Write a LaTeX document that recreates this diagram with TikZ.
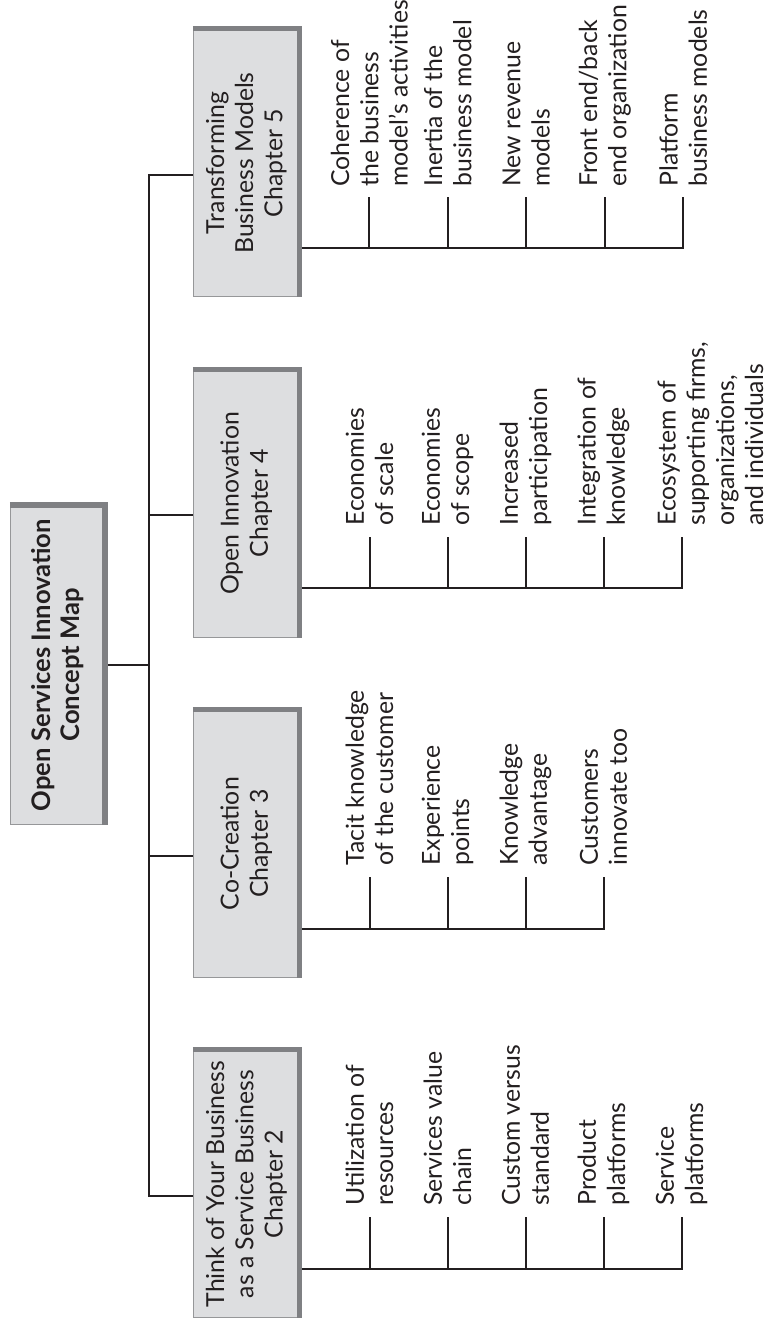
\documentclass[tikz,border=0pt]{standalone}
\usepackage{fontspec}
\setmainfont{Lato}
\usetikzlibrary{positioning}

\definecolor{inkgray}{RGB}{35,31,32}
\definecolor{boxgray}{RGB}{221,222,224}
\definecolor{edgegray}{RGB}{150,151,153}
\definecolor{shadegray}{RGB}{127,128,131}

\tikzset{
  mapbox/.style={rotate=90, draw=edgegray, line width=0.5pt, fill=boxgray,
    align=center, inner sep=0pt, text=inkgray},
  chapbox/.style={mapbox, minimum width=133.8pt, minimum height=52.9pt},
  topic/.style={rotate=90, anchor=west, align=left, inner sep=0pt, text=inkgray},
  link/.style={draw=inkgray, line width=1pt},
  boxshade/.style={draw=shadegray, line width=2.5pt}
}

\begin{document}
\begin{tikzpicture}[x=0.5pt, y=-0.5pt, font=\fontsize{12.4}{14.6}\selectfont]
  \useasboundingbox (0,0) rectangle (766,1327);

  % Concept map title
  \node[mapbox, minimum width=159.6pt, minimum height=47.2pt,
    font=\fontsize{12.8}{14.6}\selectfont\bfseries]
    (root) at (57.5,665) {Open Services Innovation\\Concept Map};

  % Chapters
  \node[chapbox] (ch5) at (246.3,163) {Transforming\\Business Models\\Chapter 5};
  \node[chapbox] (ch4) at (246.3,503.3) {Open Innovation\\Chapter 4};
  \node[chapbox] (ch3) at (246.3,843.7) {Co-Creation\\Chapter 3};
  \node[chapbox] (ch2) at (246.3,1184) {Think of Your Business\\as a Service Business\\Chapter 2};

  % Trunk
  \coordinate (trunk) at (148.7,665);
  \draw[link] (root.south) -- (trunk);
  \foreach \c in {2,...,5}
    \coordinate (in\c) at ([yshift=-6pt]ch\c.north);
  \draw[link] (in5) -| (trunk) |- (in2);
  \draw[link] (in4) -- (in4 -| trunk);
  \draw[link] (in3) -- (in3 -| trunk);

  % Chapter 5 topics
  \coordinate (bar5) at ([yshift=-42.5pt]ch5.south);
  \foreach \topic [count=\i] in {{Coherence of\\the business\\model's activities},
      {Inertia of the\\business model}, {New revenue\\models},
      {Front end/back\\end organization}, {Platform\\business models}} {
    \coordinate (k5-\i) at (290.8+78.5*\i,197);
    \node[topic] (t5-\i) at ([yshift=5pt]k5-\i) {\topic};
    \draw[link] (k5-\i) -- (k5-\i |- bar5);
  }
  \draw[link] (bar5) -| (k5-5);

  % Chapter 4 topics
  \coordinate (bar4) at ([yshift=-42.5pt]ch4.south);
  \foreach \topic [count=\i] in {{Economies\\of scale}, {Economies\\of scope},
      {Increased\\participation}, {Integration of\\knowledge}} {
    \coordinate (k4-\i) at (291.5+78*\i,537);
    \node[topic] (t4-\i) at ([yshift=5.5pt]k4-\i) {\topic};
    \draw[link] (k4-\i) -- (k4-\i |- bar4);
  }
  \coordinate (k4-5) at (681.5,537);
  \node[topic] (t4-5) at ([xshift=14.5pt,yshift=5.5pt]k4-5)
    {Ecosystem of\\supporting firms,\\organizations,\\and individuals};
  \draw[link] (bar4) -| (k4-5);

  % Chapter 3 topics
  \coordinate (bar3) at ([yshift=-42.5pt]ch3.south);
  \foreach \topic [count=\i] in {{Tacit knowledge\\of the customer},
      {Experience\\points}, {Knowledge\\advantage}, {Customers\\innovate too}} {
    \coordinate (k3-\i) at (291.5+78*\i,877);
    \node[topic] (t3-\i) at ([yshift=5.5pt]k3-\i) {\topic};
    \draw[link] (k3-\i) -- (k3-\i |- bar3);
  }
  \draw[link] (bar3) -| (k3-4);

  % Chapter 2 topics
  \coordinate (bar2) at ([yshift=-42.5pt]ch2.south);
  \foreach \topic [count=\i] in {{Utilization of\\resources},
      {Services value\\chain}, {Custom versus\\standard},
      {Product\\platforms}, {Service\\platforms}} {
    \coordinate (k2-\i) at (291.5+78*\i,1217);
    \node[topic] (t2-\i) at ([yshift=5.5pt]k2-\i) {\topic};
    \draw[link] (k2-\i) -- (k2-\i |- bar2);
  }
  \draw[link] (bar2) -| (k2-5);

  % Box shading
  \foreach \b in {ch2,ch3,ch4,ch5}
    \draw[boxshade] (\b.north east) -- (\b.south east) -- (\b.south west);
  \draw[boxshade, line width=3pt] (root.north east) -- (root.south east) -- (root.south west);
\end{tikzpicture}
\end{document}
